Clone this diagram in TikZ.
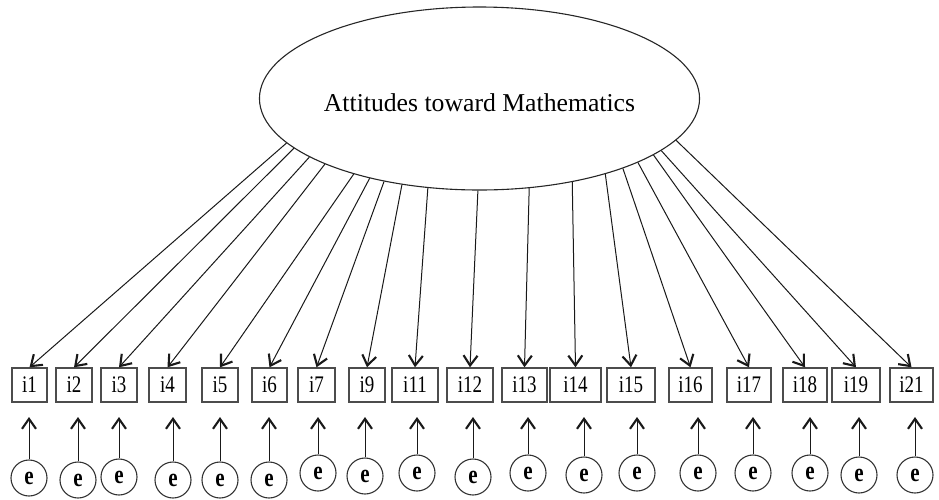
\documentclass[tikz,border=0pt]{standalone}
\usepackage{fontspec}
\setmainfont{Liberation Serif}
\usetikzlibrary{shapes.geometric,arrows.meta}
\newcommand{\tallish}[1]{\scalebox{1}[1.25]{#1}}
\begin{document}
\begin{tikzpicture}[x=1pt,y=-1pt,
  latent/.style={ellipse,draw=black!85,line width=1.1pt,minimum width=439pt,minimum height=183pt,inner sep=0pt,text height=26pt,text depth=0pt,font=\fontsize{25.7}{26}\selectfont},
  item/.style={draw=black!70,line width=1.4pt,minimum height=34pt,inner sep=0pt,font=\fontsize{19}{19}\selectfont},
  err/.style={circle,draw=black!80,line width=1.1pt,minimum size=36pt,inner sep=0pt,font=\bfseries\fontsize{21}{21}\selectfont},
  load/.style={draw=black!90,line width=1pt,-{Straight Barb[length=10pt,width=14pt,line width=2.1pt]}},
]
\useasboundingbox (0,0) rectangle (939,499);
\node[latent] (att) at (479.5,98.5) {Attitudes toward Mathematics};
\foreach \n/\lab/\bx/\bw/\ang/\ex/\ey in {
  1/i1/29.5/35/-167.8/29/478,
  2/i2/74/36/-165.2/78/480,
  3/i3/119/36/-161.1/119/477,
  4/i4/167.5/37/-157.6/173/480,
  5/i5/220/36/-149.9/220/480,
  6/i6/269.5/35/-144.4/269/480,
  7/i7/316.5/37/-139.2/318/473,
  8/i9/367/36/-132.9/365/476,
  9/i11/415/46/-120.8/417/473,
  10/i12/470/46/-91/473/477,
  11/i13/524.5/45/-61.6/528/473,
  12/i14/575.5/51/-42.4/584/475,
  13/i15/631/48/-31.6/637/473,
  14/i16/690.5/43/-26.3/698/473,
  15/i17/749/44/-22.5/753/473,
  16/i18/805/44/-18.9/810/473,
  17/i19/856/48/-16.4/859/475,
  18/i21/911.5/43/-12.4/915/475}{
  \node[item,minimum width=\bw pt] (b\n) at (\bx,385) {\tallish{\lab}};
  \node[err] (e\n) at (\ex,\ey) {\tallish{e}};
  \coordinate (t\n) at (\ex,417);
  \draw[load] (att.\ang) -- (b\n.north);
  \draw[load] (e\n) -- (t\n);
}
\end{tikzpicture}
\end{document}
